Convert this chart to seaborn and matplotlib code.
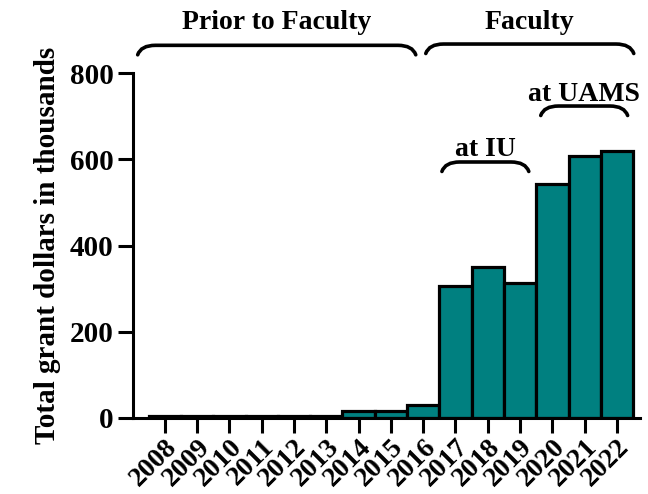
import matplotlib
matplotlib.use('Agg')
import numpy as np
import seaborn as sns
from matplotlib import pyplot as plt
from matplotlib.path import Path
from matplotlib.patches import PathPatch

YEARS = ['2008', '2009', '2010', '2011', '2012', '2013', '2014', '2015',
         '2016', '2017', '2018', '2019', '2020', '2021', '2022']
GRANT_K = [3, 3, 3, 3, 3, 3, 15, 15, 29, 307, 349, 314, 544, 608, 620]

# label, brace start, brace end, brace level, label level (data units)
BRACKETS = [
    ('Prior to Faculty', -0.84, 7.77, 865, 917),
    ('Faculty', 8.08, 14.52, 868, 917),
    ('at IU', 8.58, 11.27, 594, 622),
    ('at UAMS', 11.64, 14.33, 724, 750),
]

TEAL = '#008080'


def brace(ax, x0, x1, y, dx=0.55, dy=22):
    verts = [(x0, y - dy), (x0 + 0.1, y), (x0 + dx, y),
             (x1 - dx, y), (x1 - 0.1, y), (x1, y - dy)]
    codes = [Path.MOVETO, Path.CURVE3, Path.CURVE3,
             Path.LINETO, Path.CURVE3, Path.CURVE3]
    patch = PathPatch(Path(verts, codes), fill=False, lw=2.6,
                      edgecolor='black', clip_on=False, capstyle='round')
    ax.add_patch(patch)


def main():
    sns.set_style('ticks')
    plt.rcParams['font.family'] = ['Liberation Serif', 'DejaVu Serif']
    plt.rcParams['font.weight'] = 'bold'
    plt.rcParams['text.color'] = 'black'
    plt.rcParams['axes.labelcolor'] = 'black'
    plt.rcParams['xtick.color'] = 'black'
    plt.rcParams['ytick.color'] = 'black'
    plt.rcParams['axes.edgecolor'] = 'black'

    fig = plt.figure(figsize=(6.48, 4.94), dpi=100)
    ax = fig.add_axes([0.205, 0.1544, 0.783, 0.6972])

    sns.barplot(x=YEARS, y=GRANT_K, color=TEAL, saturation=1, width=1.0,
                edgecolor='black', linewidth=2.3, ax=ax)

    ax.set_ylim(0, 800)
    ax.set_xlim(-0.99, 14.72)
    ax.set_yticks([0, 200, 400, 600, 800])
    ax.set_ylabel('Total grant dollars in thousands', fontsize=21,
                  fontweight='bold', labelpad=6)
    ax.set_xlabel('')

    for side in ('top', 'right'):
        ax.spines[side].set_visible(False)
    for side in ('left', 'bottom'):
        ax.spines[side].set_linewidth(2.2)
    ax.tick_params(axis='both', width=2.2, length=11, color='black')
    ax.tick_params(axis='y', labelsize=21, pad=3)
    ax.tick_params(axis='x', labelsize=20, pad=1)
    for lbl in ax.get_xticklabels():
        lbl.set_rotation(45)
        lbl.set_ha('right')
        lbl.set_rotation_mode('anchor')
        lbl.set_fontweight('bold')
    for lbl in ax.get_yticklabels():
        lbl.set_fontweight('bold')

    for text, x0, x1, yb, yt in BRACKETS:
        brace(ax, x0, x1, yb)
        ax.text((x0 + x1) / 2, yt, text, ha='center', va='center',
                fontsize=20, fontweight='bold', clip_on=False)

    fig.savefig('out.png', dpi=100)


if __name__ == '__main__':
    main()
